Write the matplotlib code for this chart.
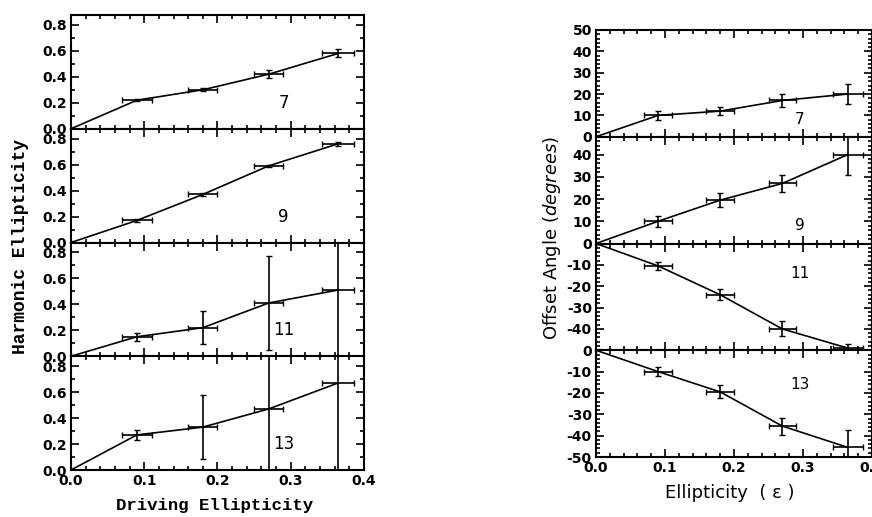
import numpy as np
import matplotlib
matplotlib.use('Agg')
import matplotlib.pyplot as plt
from matplotlib.ticker import MultipleLocator, FixedLocator

plt.rcParams['axes.unicode_minus'] = False

# driving ellipticity (same four points in every panel)
drive = [0.0, 0.09, 0.18, 0.27, 0.365]
drive_err = [0.0, 0.02, 0.02, 0.02, 0.022]

harmonics = ['7', '9', '11', '13']

# harmonic ellipticity, left column
ell_7 = [0.0, 0.22, 0.30, 0.42, 0.58]
ell_7_err = [0.0, 0.01, 0.01, 0.03, 0.03]
ell_9 = [0.0, 0.17, 0.37, 0.59, 0.76]
ell_9_err = [0.0, 0.01, 0.01, 0.01, 0.015]
ell_11 = [0.0, 0.15, 0.22, 0.41, 0.51]
ell_11_err = [0.0, 0.03, 0.125, 0.36, 0.9]
ell_13 = [0.0, 0.27, 0.33, 0.47, 0.67]
ell_13_err = [0.0, 0.04, 0.245, 0.9, 0.9]

# offset angle (degrees), right column
ang_7 = [0.0, 10, 12, 17, 20]
ang_7_err = [0.0, 2, 2, 3, 4.5]
ang_9 = [0.0, 10, 19.5, 27, 40]
ang_9_err = [0.0, 2.5, 3, 4, 9]
ang_11 = [0.0, -10.5, -24, -40, -49]
ang_11_err = [0.0, 2, 2.5, 3.5, 2]
ang_13 = [0.0, -10, -19.5, -35.5, -45.5]
ang_13_err = [0.0, 2, 3, 4, 8]

left_y = [ell_7, ell_9, ell_11, ell_13]
left_e = [ell_7_err, ell_9_err, ell_11_err, ell_13_err]
right_y = [ang_7, ang_9, ang_11, ang_13]
right_e = [ang_7_err, ang_9_err, ang_11_err, ang_13_err]

right_lims = [(0, 50), (0, 48), (-50, 0), (-50, 0)]
right_ticks = [[0, 10, 20, 30, 40, 50], [0, 10, 20, 30, 40],
               [-40, -30, -20, -10], [-50, -40, -30, -20, -10, 0]]
right_lbl_y = [8, 8, -14, -16]

fig = plt.figure(figsize=(8.72, 5.17), dpi=100)


def style_axes(ax):
    for s in ax.spines.values():
        s.set_linewidth(1.5)
    ax.tick_params(which='both', direction='in', top=True, right=True,
                   width=1.2, labelsize=10, pad=3)
    ax.tick_params(which='major', length=6)
    ax.tick_params(which='minor', length=3)
    for lab in ax.get_yticklabels() + ax.get_xticklabels():
        lab.set_fontweight('bold')


def draw_panel(ax, y, yerr, xlim):
    ax.errorbar(drive, y, xerr=drive_err, yerr=yerr, color='black',
                lw=1.2, elinewidth=1.2, capsize=2.5, capthick=1.0)
    ax.set_xlim(*xlim)
    ax.xaxis.set_major_locator(MultipleLocator(0.1))
    ax.xaxis.set_minor_locator(MultipleLocator(0.02))


# left column
lh = 0.2200
for i in range(4):
    ax = fig.add_axes([0.0814, 0.0909 + (3 - i) * lh, 0.336, lh])
    draw_panel(ax, left_y[i], left_e[i], (0, 0.4))
    ax.set_ylim(0, 0.875)
    ax.yaxis.set_minor_locator(MultipleLocator(0.1))
    ax.text(0.29, 0.2, harmonics[i], fontsize=12, ha='center', va='center')
    ax.set_xticks([0.0, 0.1, 0.2, 0.3, 0.4])
    if i < 3:
        ax.set_xticklabels([])
    else:
        ax.set_xticklabels(['0.0', '0.1', '0.2', '0.3', '0.4'])
    ax.set_yticks([0.0, 0.2, 0.4, 0.6, 0.8])
    ax.set_yticklabels(['0.0', '0.2', '0.4', '0.6', '0.8'])
    style_axes(ax)

# right column
rh = 0.2065
for i in range(4):
    ax = fig.add_axes([0.6835, 0.116 + (3 - i) * rh, 0.3165, rh])
    draw_panel(ax, right_y[i], right_e[i], (0, 0.4))
    ax.set_ylim(*right_lims[i])
    ax.set_yticks(right_ticks[i])
    ax.set_yticklabels([str(t) for t in right_ticks[i]])
    ax.yaxis.set_minor_locator(MultipleLocator(2))
    ax.text(0.295, right_lbl_y[i], harmonics[i], fontsize=11,
            ha='center', va='center')
    ax.set_xticks([0.0, 0.1, 0.2, 0.3, 0.4])
    if i < 3:
        ax.set_xticklabels([])
    else:
        ax.set_xticklabels(['0.0', '0.1', '0.2', '0.3', '0.4'])
    style_axes(ax)

fig.text(0.024, 0.524, 'Harmonic Ellipticity', rotation=90, ha='center',
         va='center', family='Liberation Mono', weight='bold', fontsize=13)
fig.text(0.246, 0.023, 'Driving Ellipticity', ha='center', va='center',
         family='Liberation Mono', weight='bold', fontsize=12.5)
fig.text(0.633, 0.54, r'Offset Angle ($\it{degrees}$)', rotation=90,
         ha='center', va='center', fontsize=13)
fig.text(0.837, 0.046, 'Ellipticity  ( \u03b5 )', ha='center', va='center',
         fontsize=13)

fig.savefig('out.png', dpi=100)
